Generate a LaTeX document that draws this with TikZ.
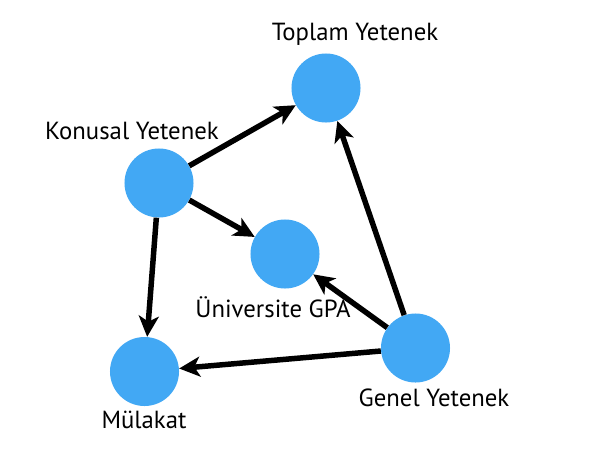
\documentclass[tikz,border=0pt]{standalone}
\usepackage{fontspec}
\setmainfont{PT Sans}
\usetikzlibrary{arrows.meta}
\definecolor{nodeblue}{HTML}{42A8F4}
\tikzset{
  var/.style={circle, fill=nodeblue, minimum size=1.725cm, inner sep=0pt},
  lbl/.style={font=\fontsize{17.6}{19}\selectfont, inner sep=0pt},
  edge/.style={line width=3.9pt, -{Stealth[length=0.52cm, width=0.5cm, inset=0.14cm]}}
}
\begin{document}
\begin{tikzpicture}[x=0.025cm, y=-0.025cm]
\useasboundingbox (0,0) rectangle (610,475);
\node[var] (top) at (326,88){};
\node[var] (kon) at (159,183){};
\node[var] (uni) at (285,254){};
\node[var] (mul) at (144.5,371.5){};
\node[var] (gen) at (415.5,348){};
\node[lbl] (toptxt) at (355,34){Toplam Yetenek};
\node[lbl] (kontxt) at (132,131){Konusal Yetenek};
\node[lbl] (unitxt) at (273,307){Üniversite GPA};
\node[lbl] (multxt) at (144,420){Mülakat};
\node[lbl] (gentxt) at (434,398){Genel Yetenek};
\draw[edge](kon) -- (top);
\draw[edge](kon) -- (uni);
\draw[edge](kon) -- (mul);
\draw[edge](gen) -- (top);
\draw[edge](gen) -- (uni);
\draw[edge](gen) -- (mul);
\end{tikzpicture}
\end{document}
